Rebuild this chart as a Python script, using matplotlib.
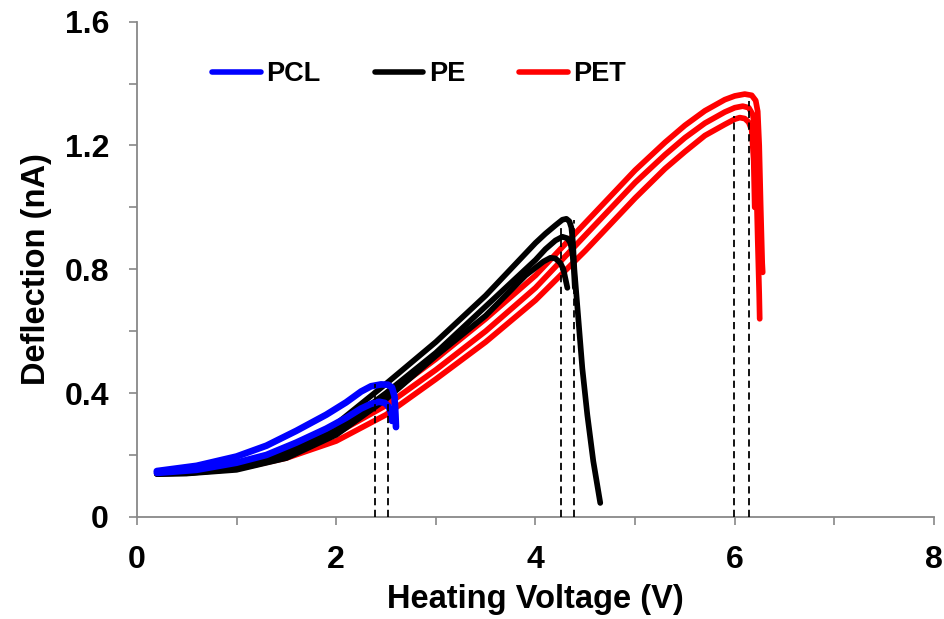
import numpy as np
import matplotlib.pyplot as plt
from matplotlib.ticker import MultipleLocator

plt.rcParams['font.family'] = ['Liberation Sans', 'DejaVu Sans']
plt.rcParams['font.weight'] = 'bold'

# PCL (blue), two runs
pcl1_v = [0.2, 0.6, 1.0, 1.3, 1.6, 1.9, 2.1, 2.25, 2.35, 2.45, 2.52, 2.56, 2.585, 2.595, 2.6]
pcl1_d = [0.148, 0.165, 0.195, 0.23, 0.278, 0.33, 0.37, 0.405, 0.422, 0.428, 0.427, 0.418, 0.39, 0.33, 0.29]
pcl2_v = [0.2, 0.6, 1.0, 1.3, 1.6, 1.9, 2.1, 2.25, 2.35, 2.43, 2.49, 2.53, 2.55, 2.56]
pcl2_d = [0.142, 0.152, 0.175, 0.20, 0.24, 0.285, 0.32, 0.35, 0.365, 0.372, 0.368, 0.355, 0.335, 0.31]

# PE (black), three runs
pe1_v = [0.2, 0.5, 1.0, 1.5, 2.0, 2.5, 3.0, 3.5, 4.0, 4.1, 4.2, 4.27, 4.31, 4.34, 4.36, 4.375,
         4.39, 4.42, 4.47, 4.52, 4.58, 4.65]
pe1_d = [0.14, 0.142, 0.16, 0.215, 0.30, 0.43, 0.565, 0.715, 0.885, 0.915, 0.942, 0.96, 0.963, 0.955,
         0.935, 0.89, 0.80, 0.68, 0.48, 0.33, 0.18, 0.045]
pe2_v = [0.2, 0.5, 1.0, 1.5, 2.0, 2.5, 3.0, 3.5, 4.0, 4.1, 4.2, 4.27, 4.32, 4.35, 4.37, 4.385, 4.395]
pe2_d = [0.14, 0.141, 0.155, 0.20, 0.28, 0.40, 0.53, 0.68, 0.83, 0.865, 0.893, 0.905, 0.90, 0.885,
         0.855, 0.80, 0.74]
pe3_v = [0.2, 0.5, 1.0, 1.5, 2.0, 2.5, 3.0, 3.5, 3.9, 4.0, 4.08, 4.15, 4.2, 4.25, 4.28, 4.3, 4.32]
pe3_d = [0.138, 0.14, 0.152, 0.19, 0.265, 0.38, 0.52, 0.65, 0.78, 0.805, 0.825, 0.837, 0.835, 0.82,
         0.80, 0.77, 0.74]

# PET (red), three runs
pet1_v = [0.2, 0.5, 1.0, 1.5, 2.0, 2.5, 3.0, 3.5, 4.0, 4.5, 5.0, 5.3, 5.5, 5.7, 5.9, 6.0, 6.1, 6.17,
          6.21, 6.23, 6.245, 6.26, 6.275, 6.28]
pet1_d = [0.145, 0.15, 0.17, 0.215, 0.29, 0.39, 0.51, 0.64, 0.78, 0.95, 1.12, 1.21, 1.265, 1.312, 1.348,
          1.36, 1.366, 1.362, 1.345, 1.31, 1.2, 1.0, 0.82, 0.79]
pet2_v = [0.2, 0.5, 1.0, 1.5, 2.0, 2.5, 3.0, 3.5, 4.0, 4.5, 5.0, 5.3, 5.5, 5.7, 5.9, 6.0, 6.08, 6.14,
          6.18, 6.2, 6.215, 6.23, 6.245, 6.25]
pet2_d = [0.143, 0.147, 0.163, 0.20, 0.27, 0.36, 0.475, 0.60, 0.74, 0.91, 1.08, 1.17, 1.225, 1.272, 1.308,
          1.322, 1.327, 1.322, 1.30, 1.26, 1.1, 0.9, 0.72, 0.64]
pet3_v = [0.2, 0.5, 1.0, 1.5, 2.0, 2.5, 3.0, 3.5, 4.0, 4.5, 5.0, 5.3, 5.5, 5.7, 5.9, 6.0, 6.05, 6.1,
          6.14, 6.17, 6.19, 6.2]
pet3_d = [0.14, 0.142, 0.155, 0.19, 0.245, 0.33, 0.445, 0.565, 0.70, 0.86, 1.03, 1.125, 1.18, 1.232,
          1.268, 1.285, 1.29, 1.287, 1.275, 1.25, 1.15, 1.0]

# dashed drop lines at the maxima
drop_v = [2.39, 2.52, 4.26, 4.39, 5.99, 6.14]
drop_top = [0.43, 0.415, 0.94, 0.96, 1.295, 1.345]

fig = plt.figure(figsize=(9.44, 6.19), dpi=100)
ax = fig.add_axes([0.145, 0.165, 0.8445, 0.80])

kw = dict(solid_capstyle='round', solid_joinstyle='round')
for v, d in [(pet1_v, pet1_d), (pet2_v, pet2_d), (pet3_v, pet3_d)]:
    ax.plot(v, d, color='#ff0000', lw=4.1, **kw)
for v, d in [(pe1_v, pe1_d), (pe2_v, pe2_d), (pe3_v, pe3_d)]:
    ax.plot(v, d, color='black', lw=4.1, **kw)
for v, d in [(pcl1_v, pcl1_d), (pcl2_v, pcl2_d)]:
    ax.plot(v, d, color='#0000ff', lw=4.8, **kw)

ax.vlines(drop_v, 0, drop_top, colors='black', linestyles=(0, (4, 2.5)), lw=1.3, zorder=5)

# legend handles
h1, = ax.plot([], [], color='#0000ff', lw=4, solid_capstyle='round', label='PCL')
h2, = ax.plot([], [], color='black', lw=4, solid_capstyle='round', label='PE')
h3, = ax.plot([], [], color='#ff0000', lw=4, solid_capstyle='round', label='PET')
fig.legend(handles=[h1, h2, h3], loc='center left', bbox_to_anchor=(212 / 944, 1 - 74 / 619),
           ncol=3, frameon=False, borderpad=0, borderaxespad=0, handlelength=1.8,
           handletextpad=0.2, columnspacing=2.0, prop={'size': 19.5, 'weight': 'bold'})

ax.set_xlim(0, 8)
ax.set_ylim(0, 1.6)
ax.xaxis.set_major_locator(MultipleLocator(2))
ax.xaxis.set_minor_locator(MultipleLocator(1))
ax.yaxis.set_major_locator(MultipleLocator(0.4))
ax.yaxis.set_minor_locator(MultipleLocator(0.2))
ax.xaxis.set_major_formatter(plt.FuncFormatter(lambda x, p: '%g' % x))
ax.yaxis.set_major_formatter(plt.FuncFormatter(lambda y, p: '0' if y == 0 else '%.1f' % y))

for s in ['top', 'right']:
    ax.spines[s].set_visible(False)
for s in ['left', 'bottom']:
    ax.spines[s].set_color('#888888')
    ax.spines[s].set_linewidth(1.3)
ax.tick_params(which='both', direction='out', length=6, width=1.2, color='#888888',
               labelsize=23, pad=14)

ax.set_xlabel('Heating Voltage (V)', fontsize=23.5, fontweight='bold', labelpad=7)
ax.set_ylabel('Deflection (nA)', fontsize=23.5, fontweight='bold', labelpad=9)

fig.savefig('out.png', dpi=100)
